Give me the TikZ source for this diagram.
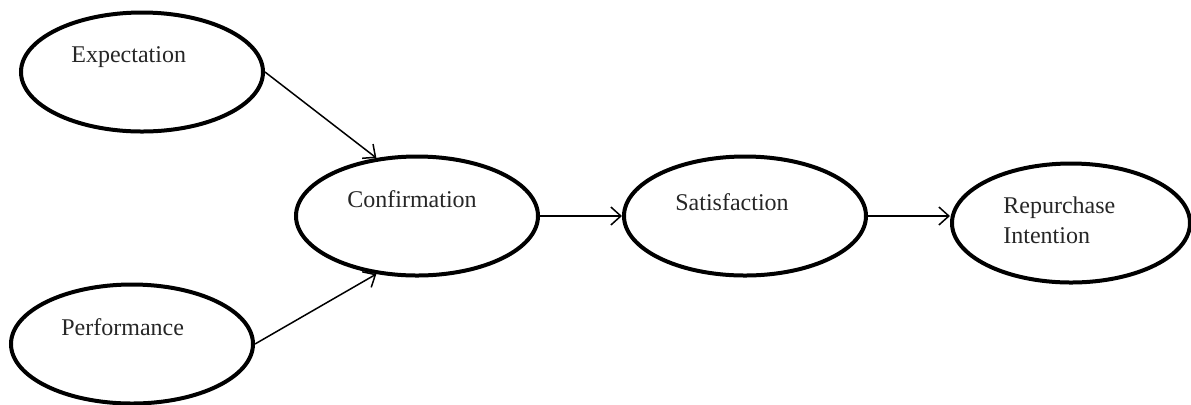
\documentclass[tikz,border=0pt]{standalone}
\usepackage{fontspec}
\setmainfont{Liberation Serif}
\usepackage{tikz}
\usetikzlibrary{arrows.meta,shapes.geometric}

\begin{document}
\begin{tikzpicture}[
  x=0.5pt, y=-0.5pt,
  font=\fontsize{12}{15}\selectfont,
  oval/.style={ellipse, draw=black, line width=2pt, inner sep=0pt,
    minimum width=121pt, minimum height=59.5pt},
  lbl/.style={anchor=base west, inner sep=0pt, text=black!85, align=left},
  link/.style={black, line width=0.75pt, -{Straight Barb[length=5pt,width=9pt]}}
]
\useasboundingbox (0,0) rectangle (1191,404);
% ovals
\node[oval] (expect) at (142,72) {};
\node[oval] (perform) at (132,344) {};
\node[oval] (confirm) at (417,216) {};
\node[oval] (satisf) at (745,216) {};
\node[oval, minimum width=119pt] (repurch) at (1071,223) {};
% labels
\node[lbl] (expectlab) at (71,62) {Expectation};
\node[lbl] (performlab) at (61,335) {Performance};
\node[lbl] (confirmlab) at (347,207) {Confirmation};
\node[lbl] (satisflab) at (675,210) {Satisfaction};
\node[lbl] (repurchlab) at (1003,243) {Repurchase\\Intention};
% arrows
\draw[link] (expect.east) -- (confirm.125);
\draw[link] (perform.east) -- (confirm.235);
\draw[link] (confirm.east) -- (satisf.west);
\draw[link] (satisf.east) -- (satisf.east -| repurch.west);
\end{tikzpicture}
\end{document}
